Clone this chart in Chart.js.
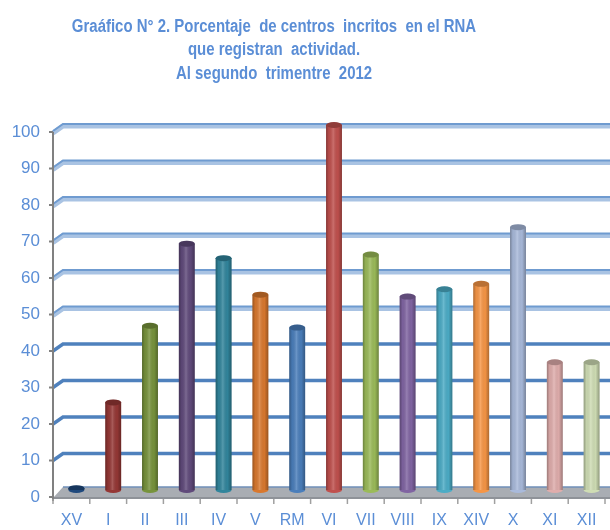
<!DOCTYPE html>
<html><head><meta charset="utf-8">
<script src="https://cdn.jsdelivr.net/npm/chart.js@4"></script>
<style>html,body{margin:0;padding:0;background:#fff}#wrap{width:610px;height:530px}</style>
</head><body><div id="wrap"><canvas id="c" width="610" height="530"></canvas></div>
<script>
const categories = ['XV','I','II','III','IV','V','RM','VI','VII','VIII','IX','XIV','X','XI','XII'];
const values = [0.5, 24, 45, 67.5, 63.5, 53.5, 44.5, 100, 64.5, 53, 55, 56.5, 72, 35, 35];
const barColors = ['#1F497D','#953735','#77933C','#604A7B','#31859C','#D9782E','#4A7EBB','#C0504D','#9BBB59','#8064A2','#4BACC6','#F79646','#A9BADB','#E0ADAC','#CFDDB4'];
const titleLines = ['Graáfico N° 2. Porcentaje  de centros  incritos  en el RNA','que registran  actividad.','Al segundo  trimentre  2012'];
const textBlue = '#5B8ED6';

const titlePlugin = {
  id: 'condTitle',
  afterDraw(chart) {
    const ctx = chart.ctx;
    ctx.save();
    ctx.fillStyle = textBlue;
    ctx.font = "bold 17.5px 'Liberation Sans', Arial, sans-serif";
    ctx.textAlign = 'center';
    ctx.textBaseline = 'middle';
    const cx = 274, sx = 0.855;
    const ys = [27, 50.5, 74];
    titleLines.forEach((t, i) => {
      ctx.save();
      ctx.translate(cx, ys[i]);
      ctx.scale(sx, 1);
      ctx.fillText(t, 0, 0);
      ctx.restore();
    });
    ctx.restore();
  }
};

const deco = {
  id: 'deco',
  beforeDatasetsDraw(chart) {
    const {ctx, chartArea: a, scales: {y}} = chart;
    ctx.save();
    for (let v = 10; v <= 100; v += 10) {
      const py = y.getPixelForValue(v);
      if (v >= 50) {
        ctx.strokeStyle = '#A9C3E3'; ctx.lineWidth = 5;
        ctx.beginPath(); ctx.moveTo(53, py + 8); ctx.lineTo(63, py + 1); ctx.lineTo(610, py + 1); ctx.stroke();
        ctx.strokeStyle = '#6F9BD0'; ctx.lineWidth = 2;
        ctx.beginPath(); ctx.moveTo(53, py + 6); ctx.lineTo(63, py - 1); ctx.lineTo(610, py - 1); ctx.stroke();
      } else {
        ctx.strokeStyle = '#4F81BD'; ctx.lineWidth = 3.5;
        ctx.beginPath(); ctx.moveTo(53, py + 7); ctx.lineTo(63, py); ctx.lineTo(610, py); ctx.stroke();
      }
    }
    const fy = y.getPixelForValue(0);
    ctx.fillStyle = '#A9ADB3';
    ctx.beginPath(); ctx.moveTo(53, fy + 8); ctx.lineTo(63, fy - 3); ctx.lineTo(610, fy - 3); ctx.lineTo(610, fy + 8); ctx.closePath(); ctx.fill();
    ctx.strokeStyle = '#8E9298'; ctx.lineWidth = 2;
    ctx.beginPath(); ctx.moveTo(53, fy + 8); ctx.lineTo(610, fy + 8); ctx.stroke();
    ctx.strokeStyle = '#6F8FB8'; ctx.lineWidth = 1.5;
    ctx.beginPath(); ctx.moveTo(63, fy - 3); ctx.lineTo(610, fy - 3); ctx.stroke();
    ctx.strokeStyle = '#808080'; ctx.lineWidth = 2;
    ctx.beginPath(); ctx.moveTo(53, y.getPixelForValue(100) + 7); ctx.lineTo(53, fy + 11); ctx.stroke();
    for (let v = 0; v <= 100; v += 10) {
      const py = y.getPixelForValue(v) + 7;
      ctx.beginPath(); ctx.moveTo(49, py); ctx.lineTo(53, py); ctx.stroke();
    }
    ctx.strokeStyle = '#A0A0A0'; ctx.lineWidth = 1.5;
    const step = (a.right - a.left) / categories.length;
    for (let i = 0; i <= categories.length; i++) {
      const px = a.left + i * step - 5;
      ctx.beginPath(); ctx.moveTo(px, fy + 9); ctx.lineTo(px, fy + 14); ctx.stroke();
    }
    ctx.restore();
  },
  afterDatasetsDraw(chart) {
    const {ctx} = chart;
    const meta = chart.getDatasetMeta(0);
    ctx.save();
    meta.data.forEach((el, i) => {
      const w = el.width, l = el.x - w / 2, top = el.y, base = el.base;
      const g = ctx.createLinearGradient(l, 0, l + w, 0);
      g.addColorStop(0, 'rgba(0,0,0,0.30)');
      g.addColorStop(0.18, 'rgba(0,0,0,0.05)');
      g.addColorStop(0.45, 'rgba(255,255,255,0.18)');
      g.addColorStop(0.75, 'rgba(0,0,0,0.02)');
      g.addColorStop(1, 'rgba(0,0,0,0.30)');
      ctx.fillStyle = g;
      ctx.fillRect(l, top, w, base - top);
      ctx.fillStyle = barColors[i];
      ctx.beginPath(); ctx.ellipse(el.x, top, w / 2, 3, 0, 0, Math.PI * 2); ctx.fill();
      ctx.fillStyle = 'rgba(0,0,0,0.25)';
      ctx.beginPath(); ctx.ellipse(el.x, top, w / 2, 3, 0, 0, Math.PI * 2); ctx.fill();
      ctx.fillStyle = barColors[i];
      ctx.beginPath(); ctx.ellipse(el.x, base, w / 2, 3, 0, 0, Math.PI); ctx.fill();
    });
    ctx.restore();
  }
};

new Chart(document.getElementById('c'), {
  type: 'bar',
  data: {
    labels: categories,
    datasets: [{ data: values, backgroundColor: barColors, borderWidth: 0,
      barPercentage: 0.9, categoryPercentage: 0.48 }]
  },
  options: {
    responsive: false, animation: false,
    layout: { padding: { left: 0, right: 0, top: 125, bottom: 0 } },
    plugins: { legend: { display: false }, tooltip: { enabled: false }, title: { display: false } },
    scales: {
      x: { grid: { display: false, drawTicks: false }, border: { display: false },
        ticks: { color: textBlue, font: { family: "'Liberation Sans',sans-serif", size: 16 }, padding: 21, labelOffset: -5, maxRotation: 0, autoSkip: false },
        afterFit(s) { s.paddingLeft = 0; s.paddingRight = 0; s.height = 40; } },
      y: { min: 0, max: 100, grid: { display: false, drawTicks: false }, border: { display: false },
        ticks: { stepSize: 10, color: textBlue, font: { family: "'Liberation Sans',sans-serif", size: 17 }, padding: 18, labelOffset: 7 },
        afterFit(s) { s.width = 58; s.paddingTop = 0; s.paddingBottom = 0; } }
    }
  },
  plugins: [deco, titlePlugin]
});
</script></body></html>
